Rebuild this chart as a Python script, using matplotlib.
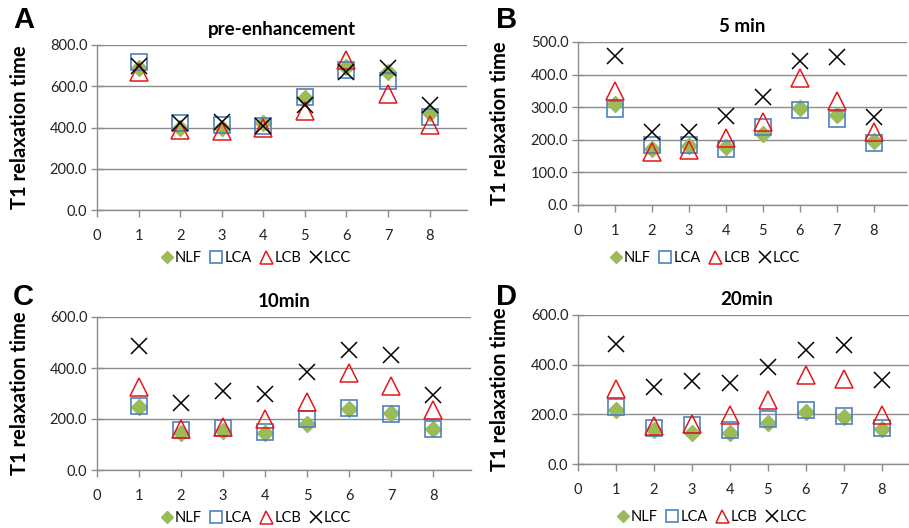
import matplotlib
matplotlib.use("Agg")
import matplotlib.pyplot as plt
from matplotlib.ticker import FormatStrFormatter

plt.rcParams['font.family'] = ['Lato', 'DejaVu Sans']

x = [1, 2, 3, 4, 5, 6, 7, 8]
series_names = ["NLF", "LCA", "LCB", "LCC"]

# Panel A: pre-enhancement
A_NLF = [688, 398, 398, 420, 541, 695, 671, 469]
A_LCA = [716, 423, 412, 409, 549, 679, 625, 449]
A_LCB = [670, 386, 382, 400, 482, 727, 563, 414]
A_LCC = [700, 423, 428, 407, 509, 671, 687, 509]
# Panel B: 5 min
B_NLF = [309, 173, 182, 179, 219, 299, 276, 197]
B_LCA = [296, 184, 184, 173, 240, 291, 265, 191]
B_LCB = [350, 162, 168, 207, 255, 390, 318, 224]
B_LCC = [456, 224, 224, 272, 330, 441, 454, 270]
# Panel C: 10min
C_NLF = [248, 147, 153, 147, 180, 241, 224, 159]
C_LCA = [250, 157, 166, 150, 200, 245, 219, 159]
C_LCB = [326, 160, 170, 200, 267, 382, 330, 235]
C_LCC = [485, 261, 310, 300, 385, 472, 450, 293]
# Panel D: 20min
D_NLF = [216, 135, 125, 125, 165, 208, 188, 141]
D_LCA = [229, 145, 158, 138, 181, 218, 194, 145]
D_LCB = [303, 152, 162, 196, 258, 359, 342, 196]
D_LCC = [483, 312, 335, 325, 390, 459, 479, 339]

titles = ["pre-enhancement", "5 min", "10min", "20min"]
letters = ["A", "B", "C", "D"]
yticks_list = [[0, 200, 400, 600, 800], [0, 100, 200, 300, 400, 500],
               [0, 200, 400, 600], [0, 200, 400, 600]]
xticks = [0, 1, 2, 3, 4, 5, 6, 7, 8]
ylabel = "T1 relaxation time"

data = [
    [A_NLF, A_LCA, A_LCB, A_LCC],
    [B_NLF, B_LCA, B_LCB, B_LCC],
    [C_NLF, C_LCA, C_LCB, C_LCC],
    [D_NLF, D_LCA, D_LCB, D_LCC],
]

W, H = 909, 528
fig = plt.figure(figsize=(W / 100, H / 100), dpi=100)

# axes boxes in pixels: left, top, right, bottom
boxes = [(97, 45, 467, 210), (578, 42, 907, 205), (97, 317, 471, 470), (578, 315, 916, 464)]
letter_pos = [(13, 20), (496, 20), (13, 297), (496, 297)]
ylabel_x = [20, 500, 20, 500]
legend_pos = [(256, 258), (705, 258), (256, 518), (712, 517)]

styles = [
    dict(marker='D', color='#9BBB59', ms=8, mfc='#9BBB59', mec='#9BBB59', mew=1),
    dict(marker='s', color='#4F81BD', ms=12, mfc='none', mec='#4F81BD', mew=1.2),
    dict(marker='^', color='#E3171B', ms=13, mfc='none', mec='#E3171B', mew=1.1),
    dict(marker='x', color='#000000', ms=12, mfc='none', mec='#000000', mew=1.1),
]

for i in range(4):
    l, t, r, b = boxes[i]
    ax = fig.add_axes([l / W, 1 - b / H, (r - l) / W, (b - t) / H])
    handles = []
    for name, vals, st in zip(series_names, data[i], styles):
        h, = ax.plot(x, vals, linestyle='none', label=name, clip_on=False, **st)
        handles.append(h)
    yt = yticks_list[i]
    ax.set_ylim(yt[0], yt[-1])
    ax.set_xlim(0, 8.9)
    ax.set_yticks(yt)
    ax.set_xticks(xticks)
    ax.yaxis.set_major_formatter(FormatStrFormatter('%.1f'))
    ax.grid(axis='y', color='#8C8C8C', linewidth=1)
    ax.set_axisbelow(True)
    for s in ['top', 'right']:
        ax.spines[s].set_visible(False)
    for s in ['left', 'bottom']:
        ax.spines[s].set_color('#8C8C8C')
        ax.spines[s].set_linewidth(1)
    ax.tick_params(axis='x', direction='out', length=5, width=1, color='#8C8C8C',
                   labelsize=10.5, pad=9, labelcolor='#222222')
    ax.tick_params(axis='y', direction='inout', length=8, width=1, color='#8C8C8C',
                   labelsize=10.5, pad=3, labelcolor='#222222')
    ax.set_title(titles[i], fontsize=13.5, fontweight='bold', pad=7)
    fig.text(letter_pos[i][0] / W, 1 - letter_pos[i][1] / H, letters[i],
             fontsize=21, fontweight='bold', family=['Liberation Sans', 'DejaVu Sans'],
             ha='left', va='center')
    fig.text(ylabel_x[i] / W, 1 - ((t + b) / 2) / H, ylabel, rotation=90,
             fontsize=14.5, fontweight='bold', ha='center', va='center')
    fig.legend(handles=handles, labels=series_names, loc='center',
               bbox_to_anchor=(legend_pos[i][0] / W, 1 - legend_pos[i][1] / H),
               ncol=4, frameon=False, fontsize=10.5, handlelength=0.8,
               handletextpad=0.15, columnspacing=0.6, markerscale=0.72,
               borderaxespad=0, borderpad=0)

fig.savefig("out.png", dpi=100)
